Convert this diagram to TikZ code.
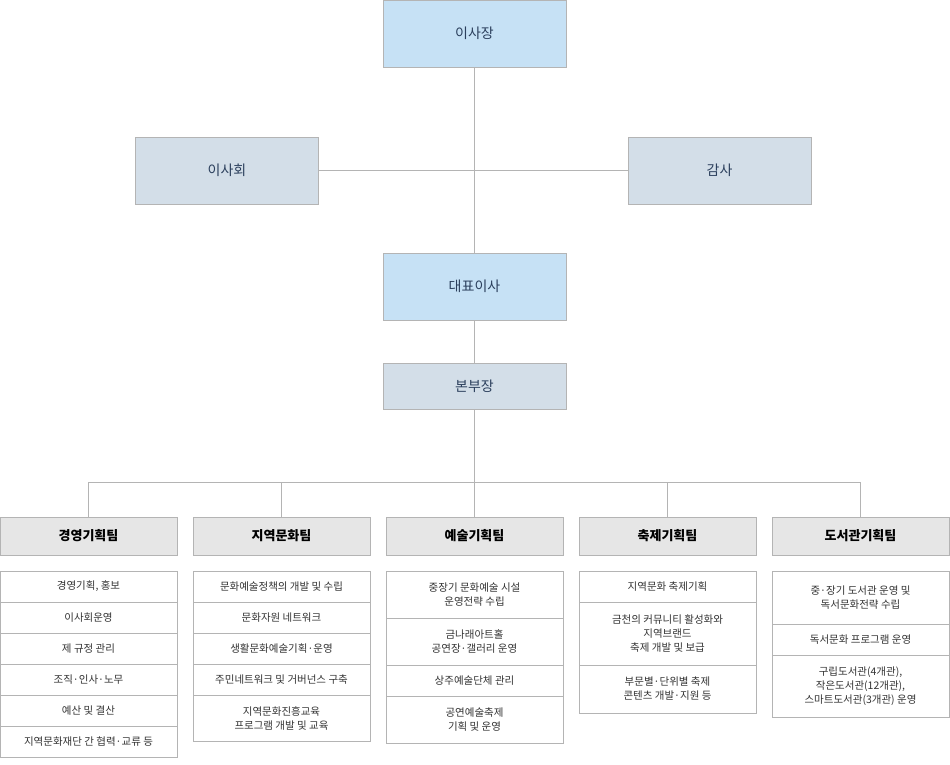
\documentclass[tikz,border=0pt]{standalone}
\usepackage{fontspec}
\setmainfont{Noto Sans CJK KR}
\definecolor{navy}{HTML}{2B3F5C}
\definecolor{blueA}{HTML}{C6E1F5}
\definecolor{grayB}{HTML}{D3DEE8}
\definecolor{hdr}{HTML}{E6E6E6}
\definecolor{ln}{HTML}{B4B4B4}
\definecolor{txt}{HTML}{333333}
\begin{document}
\begin{tikzpicture}[x=1pt,y=-1pt,
  top/.style={draw=ln,fill=blueA,minimum width=183,minimum height=67,text=navy,font=\fontsize{14}{16}\selectfont,inner sep=0},
  mid/.style={draw=ln,fill=grayB,minimum width=183,minimum height=67,text=navy,font=\fontsize{14}{16}\selectfont,inner sep=0},
  team/.style={draw=ln,fill=hdr,minimum width=177,minimum height=38,text=black,font=\fontsize{13}{15}\selectfont\bfseries,inner sep=0},
  cell/.style={draw=ln,fill=white,minimum width=177,text=txt,font=\fontsize{10.5}{14}\selectfont,align=center,inner sep=0},
  conn/.style={draw=ln,line width=0.8}]
\useasboundingbox (0,0) rectangle (950,765);
\node[top] (ceo) at (474.5,33.5) {이사장};
\node[mid] (board) at (227,170.5) {이사회};
\node[mid] (audit) at (719.5,170.5) {감사};
\node[top] (rep) at (474.5,286.5) {대표이사};
\node[mid,minimum height=46] (hq) at (474.5,386) {본부장};
\draw[conn] (ceo.south) -- (rep.north);
\draw[conn] (board.east) -- (audit.west);
\draw[conn] (rep.south) -- (hq.north);
\coordinate (j) at (474.5,482);
\draw[conn] (hq.south) -- (j);
\node[team] (t1) at (88.5,536) {경영기획팀};
\node[team] (t2) at (281.5,536) {지역문화팀};
\node[team] (t3) at (474.5,536) {예술기획팀};
\node[team] (t4) at (667.5,536) {축제기획팀};
\node[team] (t5) at (860.5,536) {도서관기획팀};
\coordinate (b1) at (t1.north |- j);
\coordinate (b5) at (t5.north |- j);
\draw[conn] (b1) -- (b5);
\foreach \t in {t1,t2,t3,t4,t5} \draw[conn] (\t.north |- j) -- (\t.north);
% column 1
\node[cell,minimum height=31] (a1) at (88.5,586.5) {경영기획, 홍보};
\node[cell,minimum height=31] (a2) at (88.5,617.5) {이사회운영};
\node[cell,minimum height=31] (a3) at (88.5,648.5) {제 규정 관리};
\node[cell,minimum height=31] (a4) at (88.5,679.5) {조직·인사·노무};
\node[cell,minimum height=31] (a5) at (88.5,710.5) {예산 및 결산};
\node[cell,minimum height=31] (a6) at (88.5,741.5) {지역문화재단 간 협력·교류 등};
% column 2
\node[cell,minimum height=31] (b1c) at (281.5,586.5) {문화예술정책의 개발 및 수립};
\node[cell,minimum height=31] (b2c) at (281.5,617.5) {문화자원 네트워크};
\node[cell,minimum height=31] (b3c) at (281.5,648.5) {생활문화예술기획·운영};
\node[cell,minimum height=31] (b4c) at (281.5,679.5) {주민네트워크 및 거버넌스 구축};
\node[cell,minimum height=46] (b5c) at (281.5,718) {지역문화진흥교육\\프로그램 개발 및 교육};
% column 3
\node[cell,minimum height=47] (c1) at (474.5,594.5) {중장기 문화예술 시설\\운영전략 수립};
\node[cell,minimum height=47] (c2) at (474.5,641.5) {금나래아트홀\\공연장·갤러리 운영};
\node[cell,minimum height=31] (c3) at (474.5,680.5) {상주예술단체 관리};
\node[cell,minimum height=47] (c4) at (474.5,719.5) {공연예술축제\\기획 및 운영};
% column 4
\node[cell,minimum height=31] (d1) at (667.5,586.5) {지역문화 축제기획};
\node[cell,minimum height=63] (d2) at (667.5,633.5) {금천의 커뮤니티 활성화와\\지역브랜드\\축제 개발 및 보급};
\node[cell,minimum height=48] (d3) at (667.5,689) {부문별·단위별 축제\\콘텐츠 개발·지원 등};
% column 5
\node[cell,minimum height=53] (e1) at (860.5,597.5) {중·장기 도서관 운영 및\\독서문화전략 수립};
\node[cell,minimum height=31] (e2) at (860.5,639.5) {독서문화 프로그램 운영};
\node[cell,minimum height=62] (e3) at (860.5,686) {구립도서관(4개관),\\작은도서관(12개관),\\스마트도서관(3개관) 운영};
\end{tikzpicture}
\end{document}
